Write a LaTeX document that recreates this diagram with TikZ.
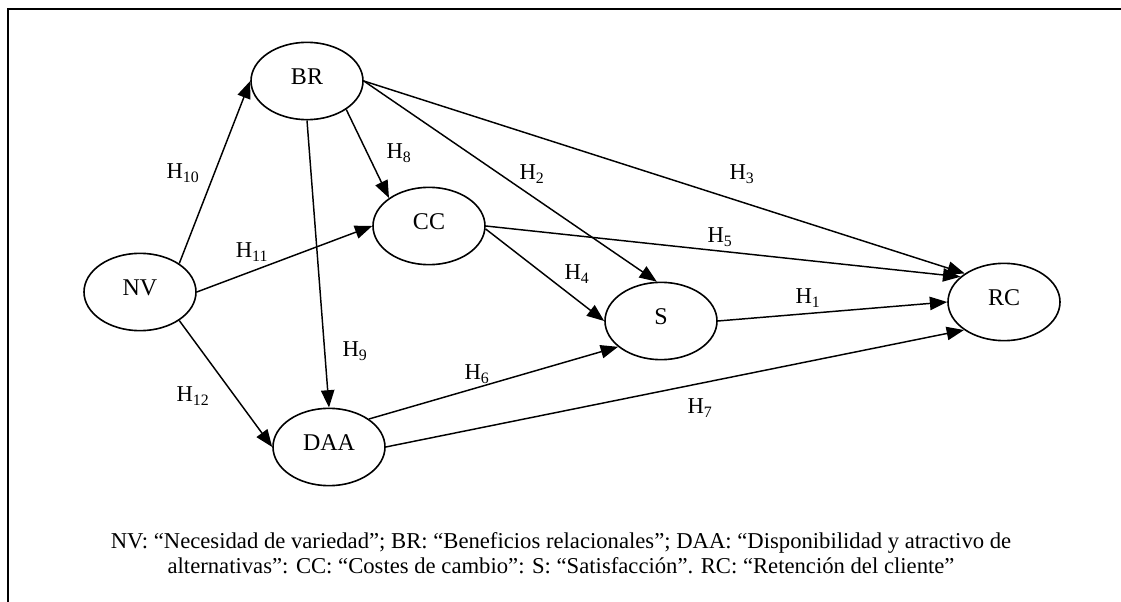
\documentclass[tikz,border=0pt]{standalone}
\usepackage{fontspec}
\setmainfont{Liberation Serif}
\usetikzlibrary{shapes.geometric,arrows.meta}

\tikzset{
  var/.style={draw, ellipse, line width=1.2pt, minimum width=84pt, minimum height=58pt,
    inner sep=0pt, text depth=7pt, font=\fontsize{18}{20}\selectfont},
  hyp/.style={-{Triangle[length=13pt,width=10pt]}, line width=1.1pt},
  hlab/.style={inner sep=0pt, font=\fontsize{17}{18}\selectfont}
}

\begin{document}
\begin{tikzpicture}[x=0.75pt,y=-0.75pt]
        \useasboundingbox (0,0) rectangle (1121,602);
        \draw[line width=1.6pt] (8,602) -- (8,9) -- (1121,9);

        % variables
        \node[var] (BR) at (307,81) {BR};
        \node[var] (NV) at (140,292) {NV};
        \node[var] (CC) at (429,226) {CC};
        \node[var] (S) at (661,321) {S};
        \node[var] (RC) at (1004,302) {RC};
        \node[var] (DAA) at (329,447) {DAA};

        % hypotheses
        \draw[hyp] (NV.36) -- (BR.west);
        \draw[hyp] (NV.east) -- (CC.west);
        \draw[hyp] (NV.-36) -- (DAA.west);
        \draw[hyp] (BR.south) -- (DAA.north);
        \draw[hyp] (BR.-36) -- (CC.145);
        \draw[hyp] (BR.east) -- (S.96);
        \draw[hyp] (BR.east) -- (RC.144);
        \draw[hyp] (CC.east) -- (RC.150);
        \draw[hyp] (CC.-3) -- (S.west);
        \draw[hyp] (S.east) -- (RC.west);
        \draw[hyp] (DAA.35) -- (S.211);
        \draw[hyp] (DAA.east) -- (RC.215);

        \node[hlab] (h1) at (808,298) {H\textsubscript{1}};
        \node[hlab] (h2) at (532,174) {H\textsubscript{2}};
        \node[hlab] (h3) at (742,174) {H\textsubscript{3}};
        \node[hlab] (h4) at (577,274) {H\textsubscript{4}};
        \node[hlab] (h5) at (720,237) {H\textsubscript{5}};
        \node[hlab] (h6) at (477,374) {H\textsubscript{6}};
        \node[hlab] (h7) at (700,408) {H\textsubscript{7}};
        \node[hlab] (h8) at (399,153) {H\textsubscript{8}};
        \node[hlab] (h9) at (355,351) {H\textsubscript{9}};
        \node[hlab] (h10) at (183,173) {H\textsubscript{10}};
        \node[hlab] (h11) at (252,252) {H\textsubscript{11}};
        \node[hlab] (h12) at (193,396) {H\textsubscript{12}};

        \node[align=center, inner sep=0pt, font=\fontsize{17}{18.75}\selectfont] (legend) at (561,553)
          {NV: “Necesidad de variedad”; BR: “Beneficios relacionales”; DAA: “Disponibilidad y atractivo de\\
           alternativas”: CC: “Costes de cambio”: S: “Satisfacción”. RC: “Retención del cliente”};
\end{tikzpicture}
\end{document}
